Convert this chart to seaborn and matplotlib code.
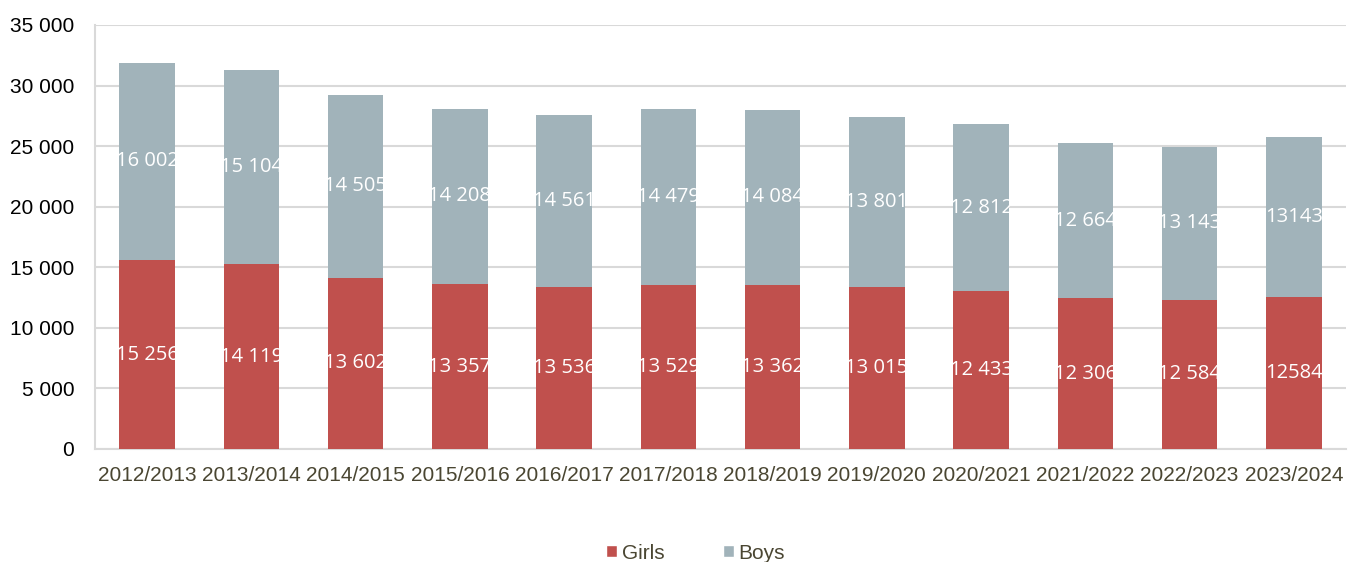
import matplotlib
matplotlib.use("Agg")
import matplotlib.pyplot as plt
import seaborn as sns
import pandas as pd
from matplotlib.patches import Patch

years = ["2012/2013", "2013/2014", "2014/2015", "2015/2016", "2016/2017", "2017/2018",
         "2018/2019", "2019/2020", "2020/2021", "2021/2022", "2022/2023", "2023/2024"]
girls = [15580, 15256, 14119, 13602, 13357, 13536, 13529, 13362, 13015, 12433, 12306, 12584]
boys = [16315, 16002, 15104, 14505, 14208, 14561, 14479, 14084, 13801, 12812, 12664, 13143]
girls_labels = ["15 256", "14 119", "13 602", "13 357", "13 536", "13 529", "13 362",
                "13 015", "12 433", "12 306", "12 584", "12584"]
boys_labels = ["16 002", "15 104", "14 505", "14 208", "14 561", "14 479", "14 084",
               "13 801", "12 812", "12 664", "13 143", "13143"]
yticks = [0, 5000, 10000, 15000, 20000, 25000, 30000, 35000]
ytick_labels = ["0", "5 000", "10 000", "15 000", "20 000", "25 000", "30 000", "35 000"]

GIRL_C = "#C0504D"
BOY_C = "#A1B3BA"
TXT_C = "#4A4632"

sns.set_theme(style="white")
df = pd.DataFrame({"year": years, "girls": girls, "boys": boys})
df["total"] = df["girls"] + df["boys"]

fig = plt.figure(figsize=(13.58, 5.62), dpi=100)
ax = fig.add_axes([95 / 1358, 1 - 449 / 562, 1251 / 1358, 424 / 562])

sns.barplot(data=df, x="year", y="total", color=BOY_C, width=0.53, saturation=1,
            ax=ax, zorder=2, linewidth=0)
sns.barplot(data=df, x="year", y="girls", color=GIRL_C, width=0.53, saturation=1,
            ax=ax, zorder=3, linewidth=0)

n = len(years)
boy_patches = ax.patches[:n]
girl_patches = ax.patches[n:2 * n]

for i in range(n):
    gp = girl_patches[i]
    bp = boy_patches[i]
    cx = gp.get_x() + gp.get_width() / 2
    t = ax.text(cx, girls[i] / 2, girls_labels[i], ha="center", va="center",
                color="white", fontsize=14.5, family="Open Sans", zorder=5)
    t.set_clip_path(gp)
    t2 = ax.text(cx, girls[i] + boys[i] / 2, boys_labels[i], ha="center", va="center",
                 color="white", fontsize=14.5, family="Open Sans", zorder=5)
    t2.set_clip_path(bp)

ax.set_ylim(0, 35000)
ax.set_xlim(-0.5, n - 0.5)
ax.set_yticks(yticks)
ax.set_yticklabels(ytick_labels, fontsize=15, family="Liberation Sans", color="black")
ax.set_xticks(range(n))
ax.set_xticklabels(years, fontsize=15, family="Liberation Sans", color=TXT_C)
ax.set_xlabel("")
ax.set_ylabel("")
ax.tick_params(axis="both", length=0)
ax.tick_params(axis="y", pad=15)
ax.tick_params(axis="x", pad=12)
ax.yaxis.grid(True, color="#D9D9D9", linewidth=1.5, zorder=0)
ax.set_axisbelow(True)
for s in ["top", "right"]:
    ax.spines[s].set_visible(False)
for s in ["left", "bottom"]:
    ax.spines[s].set_color("#D9D9D9")
    ax.spines[s].set_linewidth(1.5)

handles = [Patch(facecolor=GIRL_C, label="Girls"), Patch(facecolor=BOY_C, label="Boys")]
fig.legend(handles=handles, loc="center", bbox_to_anchor=(0.512, 0.016), ncol=2,
           frameon=False, handlelength=0.55, handleheight=0.55, handletextpad=0.2,
           columnspacing=2.8, borderpad=0,
           prop={"family": "Liberation Sans", "size": 15},
           labelcolor=TXT_C)

fig.savefig("out.png", dpi=100)
